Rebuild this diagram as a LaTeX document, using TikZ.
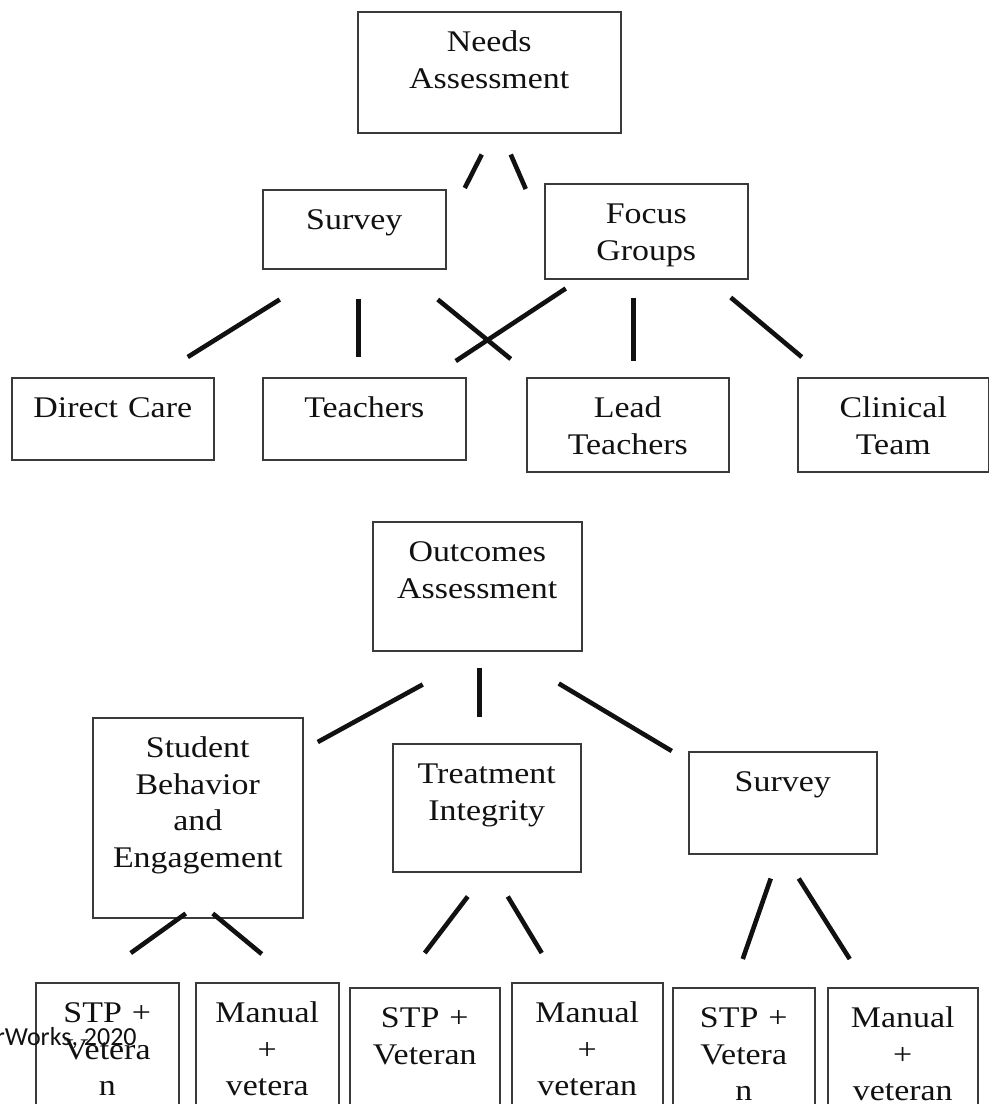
\documentclass[tikz,border=0pt]{standalone}
\usepackage{fontspec}
\setmainfont{Liberation Serif}[FakeStretch=1.13]
\newfontfamily\notefont{Carlito}
\usepackage{tikz}
\usetikzlibrary{calc}
\definecolor{INK}{HTML}{111111}
\definecolor{EDGE}{HTML}{3A3A3A}

\begin{document}
\begin{tikzpicture}[x=0.5pt,y=-0.5pt]
\tikzset{box/.style={draw=EDGE,line width=0.75pt,inner sep=0pt,anchor=north west,align=center,
 text height=20pt,font=\fontsize{15}{18.3}\selectfont,text=INK},
 link/.style={line width=2.3pt,INK}}
\useasboundingbox (0,0) rectangle (989,1104);
% needs assessment tree
\node[box,text width=131.5pt,text depth=40.5pt] (needs) at (357,11) {Needs\\Assessment};
\node[box,text width=91.5pt,text depth=19.5pt] (survey1) at (262,189) {Survey};
\node[box,text width=101.5pt,text depth=27.5pt] (focus) at (544,183) {Focus\\Groups};
\node[box,text width=101pt,text depth=21pt] (direct) at (11,377) {Direct Care};
\node[box,text width=101.5pt,text depth=21pt] (teach) at (262,377) {Teachers};
\node[box,text width=101pt,text depth=27pt] (lead) at (526,377) {Lead\\Teachers};
\node[box,text width=95.5pt,text depth=27pt] (clinical) at (797,377) {Clinical\\Team};
\draw[link] ($(needs.south)+(-7.5,21)$) -- ($(survey1.north)+(110.5,-1)$);
\draw[link] ($(needs.south)+(21.5,21)$) -- ($(focus.north)+(-120.5,6)$);
\draw[link] ($(survey1.south)+(-74.5,30)$) -- ($(direct.north)+(75,-20)$);
\draw[link] ($(survey1.south)+(4.5,29)$) -- ($(teach.north)+(-5.5,-20)$);
\draw[link] ($(survey1.south)+(83.5,30)$) -- ($(lead.north)+(-117,-18)$);
\draw[link] ($(focus.south)+(-80.5,9)$) -- ($(teach.north)+(91.5,-16)$);
\draw[link] ($(focus.south)+(-12.5,18)$) -- ($(lead.north)+(6,-16)$);
\draw[link] ($(focus.south)+(84.5,18)$) -- ($(clinical.north)+(-91.5,-20)$);
% outcomes assessment tree
\node[box,text width=104.5pt,text depth=44.5pt] (outcomes) at (372,521) {Outcomes\\Assessment};
\node[box,text width=105pt,text depth=80pt] (student) at (92,717) {Student\\Behavior\\and\\Engagement};
\node[box,text width=94pt,text depth=44pt] (integrity) at (392,743) {Treatment\\Integrity};
\node[box,text width=94pt,text depth=31pt] (survey2) at (688,751) {Survey};
\node[box,text width=71.5pt,text depth=54pt] (stp1) at (35,982) {STP +\\Vetera\\n};
\node[box,text width=71.5pt,text depth=54pt] (man1) at (195,982) {Manual\\+\\vetera};
\node[box,text width=75pt,text depth=52pt] (stp2) at (349,987) {STP +\\Veteran};
\node[box,text width=75.5pt,text depth=54pt] (man2) at (511,982) {Manual\\+\\veteran};
\node[box,text width=71pt,text depth=52pt] (stp3) at (672,987) {STP +\\Vetera\\n};
\node[box,text width=75pt,text depth=52pt] (man3) at (827,987) {Manual\\+\\veteran};
\draw[link] ($(outcomes.south)+(-54.5,33)$) -- ($(student.north)+(120,25)$);
\draw[link] ($(outcomes.south)+(2.5,16)$) -- ($(integrity.north)+(-7,-26)$);
\draw[link] ($(outcomes.south)+(81.5,32)$) -- ($(survey2.north)+(-111,0)$);
\draw[link] ($(student.south)+(-12,-5)$) -- ($(stp1.north)+(23.5,-29)$);
\draw[link] ($(student.south)+(15,-5)$) -- ($(man1.north)+(-5.5,-28)$);
\draw[link] ($(integrity.south)+(-19,24)$) -- ($(stp2.north)+(0,-34)$);
\draw[link] ($(integrity.south)+(21,24)$) -- ($(man2.north)+(-45.5,-29)$);
\draw[link] ($(survey2.south)+(-12,24)$) -- ($(stp3.north)+(-1,-28)$);
\draw[link] ($(survey2.south)+(16,24)$) -- ($(man3.north)+(-53,-28)$);
\node[anchor=base east,inner sep=0pt,font=\notefont\fontsize{13}{15}\selectfont,text=INK] (credit) at (137,1045) {rWorks, 2020};
\end{tikzpicture}
\end{document}
